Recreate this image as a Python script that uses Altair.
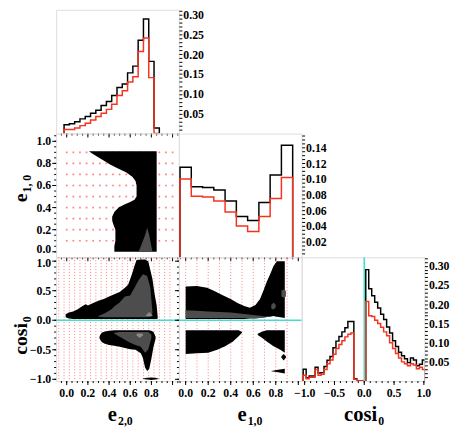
import json
import numpy as np
import pandas as pd
import altair as alt

W = 125
H = 126
SERIF = "Liberation Serif"
RED = "#f5331f"
CYAN = "#3fe0d0"
DOT_RED = "#ff6060"
GRAY = "#4d4d4d"
LIGHT = "#8a8a8a"

# ---------------- histogram data ----------------
E2_BIN_START, E2_BIN_WIDTH = -0.025, 0.05
E2_BLACK = [0.022, 0.025, 0.030, 0.037, 0.043, 0.051, 0.059, 0.071, 0.081, 0.096,
            0.116, 0.125, 0.153, 0.170, 0.235, 0.289, 0.182, 0.014]
E2_RED = [0.010, 0.010, 0.014, 0.020, 0.026, 0.034, 0.043, 0.051, 0.061, 0.074,
          0.096, 0.108, 0.130, 0.143, 0.207, 0.241, 0.141, 0.0]

E1_BIN_START, E1_BIN_WIDTH = -0.05, 0.1
E1_BLACK = [0.115, 0.090, 0.089, 0.086, 0.072, 0.052, 0.047, 0.070, 0.105, 0.143]
E1_RED = [0.100, 0.078, 0.077, 0.072, 0.058, 0.040, 0.033, 0.052, 0.075, 0.102]

COSI_BIN_START, COSI_BIN_WIDTH = -1.025, 0.05
COSI_BLACK = [0.031, 0.009, 0.013, 0.013, 0.036, 0.021, 0.022, 0.038, 0.054, 0.064,
              0.087, 0.104, 0.116, 0.128, 0.139, 0.155, 0.155, 0.006, 0.0, 0.0, 0.0,
              0.290, 0.240, 0.222, 0.205, 0.190, 0.174, 0.160, 0.141, 0.125, 0.105,
              0.090, 0.075, 0.066, 0.058, 0.048, 0.060, 0.055, 0.040, 0.044, 0.055]
COSI_RED = [0.015, 0.006, 0.010, 0.010, 0.030, 0.015, 0.018, 0.030, 0.045, 0.055,
            0.070, 0.085, 0.095, 0.105, 0.115, 0.122, 0.125, 0.005, 0.0, 0.0, 0.0,
            0.207, 0.170, 0.168, 0.158, 0.150, 0.140, 0.128, 0.118, 0.100, 0.085,
            0.072, 0.060, 0.050, 0.045, 0.040, 0.045, 0.042, 0.032, 0.036, 0.030]

# ---------------- contour regions: (dimension, low, high) ----------------
# cosi_0 vs e_2,0
CE2_UP_X = [-0.01, 0.02, 0.06, 0.10, 0.15, 0.18, 0.20, 0.25, 0.30, 0.35, 0.40, 0.45, 0.50,
            0.55, 0.58, 0.60, 0.62, 0.64, 0.66, 0.70, 0.74, 0.77, 0.79, 0.81, 0.83, 0.85, 0.86]
CE2_UP_LO = [0.05, 0.03, 0.02, 0.02, 0.02, 0.02, 0.02, 0.02, 0.02, 0.02, 0.02, 0.02, 0.02,
             0.02, 0.02, 0.02, 0.02, 0.02, 0.02, 0.02, 0.02, 0.02, 0.02, 0.02, 0.02, 0.02, 0.03]
CE2_UP_HI = [0.10, 0.13, 0.15, 0.18, 0.24, 0.27, 0.25, 0.29, 0.33, 0.36, 0.40, 0.44, 0.48,
             0.55, 0.60, 0.70, 0.80, 0.92, 1.02, 1.03, 1.03, 1.00, 0.85, 0.70, 0.45, 0.25, 0.05]
CE2_LOW_X = [0.31, 0.33, 0.36, 0.40, 0.45, 0.50, 0.55, 0.60, 0.65, 0.70, 0.72, 0.74, 0.76,
             0.78, 0.80, 0.82, 0.84]
CE2_LOW_HI = [-0.27, -0.21, -0.19, -0.18, -0.17, -0.17, -0.17, -0.17, -0.17, -0.17, -0.17,
              -0.17, -0.17, -0.17, -0.18, -0.20, -0.28]
CE2_LOW_LO = [-0.31, -0.37, -0.40, -0.42, -0.43, -0.45, -0.47, -0.49, -0.50, -0.56, -0.64,
              -0.80, -0.86, -0.82, -0.65, -0.45, -0.31]
CE2_BLOB_X = [0.72, 0.76, 0.80, 0.84, 0.87]
CE2_BLOB_HI = [-0.985, -0.972, -0.968, -0.975, -0.990]
CE2_BLOB_LO = [-0.995, -1.005, -1.010, -1.005, -0.995]
CE2_GUP_X = [0.30, 0.36, 0.42, 0.46, 0.50, 0.55, 0.60, 0.64, 0.68, 0.72, 0.76, 0.79, 0.81]
CE2_GUP_LO = [0.06, 0.05, 0.05, 0.05, 0.05, 0.05, 0.05, 0.05, 0.05, 0.05, 0.05, 0.08, 0.12]
CE2_GUP_HI = [0.07, 0.12, 0.18, 0.25, 0.30, 0.40, 0.42, 0.55, 0.68, 0.78, 0.75, 0.55, 0.15]
CE2_GLOW_X = [0.45, 0.50, 0.55, 0.60, 0.65, 0.70, 0.74, 0.77, 0.80]
CE2_GLOW_HI = [-0.21, -0.20, -0.20, -0.20, -0.20, -0.20, -0.20, -0.20, -0.24]
CE2_GLOW_LO = [-0.23, -0.28, -0.33, -0.38, -0.42, -0.45, -0.55, -0.50, -0.30]
CE2_LUP_X = [0.75, 0.78, 0.81]
CE2_LUP_LO = [0.07, 0.06, 0.07]
CE2_LUP_HI = [0.09, 0.14, 0.09]
CE2_LLOW_X = [0.66, 0.69, 0.72]
CE2_LLOW_HI = [-0.23, -0.225, -0.23]
CE2_LLOW_LO = [-0.26, -0.30, -0.26]

# cosi_0 vs e_1,0
CE1_UP_X = [0.0, 0.10, 0.19, 0.25, 0.32, 0.40, 0.46, 0.52, 0.57, 0.62, 0.66, 0.69, 0.72,
            0.75, 0.78, 0.81, 0.84, 0.88]
CE1_UP_LO = [0.02, 0.02, 0.02, 0.02, 0.02, 0.02, 0.02, 0.02, 0.03, 0.03, 0.04, 0.05, 0.06,
             0.06, 0.07, 0.06, 0.05, 0.04]
CE1_UP_HI = [0.57, 0.58, 0.55, 0.50, 0.43, 0.36, 0.29, 0.24, 0.21, 0.26, 0.36, 0.50, 0.65,
             0.78, 0.92, 1.00, 1.00, 1.00]
CE1_LL_X = [0.0, 0.10, 0.20, 0.28, 0.35, 0.42, 0.47, 0.50]
CE1_LL_HI = [-0.17, -0.17, -0.17, -0.17, -0.17, -0.17, -0.17, -0.20]
CE1_LL_LO = [-0.57, -0.56, -0.55, -0.50, -0.44, -0.36, -0.27, -0.21]
CE1_LR_X = [0.64, 0.68, 0.72, 0.78, 0.84, 0.88]
CE1_LR_HI = [-0.23, -0.19, -0.17, -0.17, -0.17, -0.17]
CE1_LR_LO = [-0.25, -0.30, -0.36, -0.44, -0.50, -0.55]
CE1_BIT_X = [0.85, 0.87, 0.89]
CE1_BIT_HI = [-0.61, -0.57, -0.61]
CE1_BIT_LO = [-0.63, -0.68, -0.63]
CE1_TRI_X = [0.76, 0.82, 0.88]
CE1_TRI_HI = [-0.860, -0.840, -0.820]
CE1_TRI_LO = [-0.865, -0.880, -0.900]
CE1_GBAND_X = [0.0, 0.10, 0.20, 0.30, 0.40, 0.50, 0.60, 0.68, 0.72]
CE1_GBAND_LO = [0.04, 0.04, 0.04, 0.04, 0.04, 0.04, 0.04, 0.04, 0.05]
CE1_GBAND_HI = [0.17, 0.16, 0.15, 0.14, 0.13, 0.11, 0.09, 0.07, 0.055]
CE1_GP1_X = [0.76, 0.78, 0.80]
CE1_GP1_LO = [0.20, 0.18, 0.22]
CE1_GP1_HI = [0.26, 0.30, 0.26]
CE1_GP2_X = [0.85, 0.87, 0.89]
CE1_GP2_LO = [0.40, 0.38, 0.40]
CE1_GP2_HI = [0.50, 0.52, 0.50]

# e_1,0 vs e_2,0 (horizontal bands: e1 -> e2 range)
EE_E1 = [0.0, 0.05, 0.10, 0.15, 0.20, 0.25, 0.28, 0.32, 0.36, 0.40, 0.43, 0.45, 0.47,
         0.50, 0.55, 0.60, 0.64, 0.68, 0.72, 0.76, 0.79, 0.82, 0.86, 0.89, 0.91]
EE_LEFT = [0.45, 0.45, 0.46, 0.46, 0.46, 0.44, 0.43, 0.43, 0.45, 0.49, 0.55, 0.60, 0.64,
           0.66, 0.66, 0.66, 0.65, 0.62, 0.56, 0.47, 0.41, 0.36, 0.29, 0.24, 0.21]
EE_RIGHT = [0.85] * len(EE_E1)
EE_G_E1 = [0.0, 0.05, 0.10, 0.15, 0.20, 0.22]
EE_G_LEFT = [0.68, 0.70, 0.72, 0.74, 0.755, 0.76]
EE_G_RIGHT = [0.81, 0.80, 0.79, 0.78, 0.765, 0.76]

# grid guides
DOT_E2 = [0.0, 0.0625, 0.125, 0.1875, 0.25, 0.3125, 0.375, 0.4375, 0.5, 0.5625, 0.625,
          0.6875, 0.75, 0.8125, 0.875, 0.9375, 1.0]
DOT_E1 = [0.1, 0.2, 0.3, 0.4, 0.5, 0.6, 0.7, 0.8, 0.9]
LINES_E2 = [-0.075, -0.025, 0.025, 0.075, 0.125, 0.175, 0.225, 0.275, 0.325, 0.375, 0.425,
            0.475, 0.525, 0.575, 0.625, 0.675, 0.725, 0.775, 0.825, 0.875, 0.925, 0.975]
LINES_E1 = [0.0, 0.1, 0.2, 0.3, 0.4, 0.5, 0.6, 0.7, 0.8, 0.9]
COSI_REF = [0.0]

# axis domains and ticks
E2_DOMAIN = [-0.10, 1.06]
E1_XDOMAIN = [-0.06, 1.03]
E1_YDOMAIN = [-0.05, 1.07]
COSI_YDOMAIN = [-1.03, 1.065]
COSI_XDOMAIN = [-1.05, 1.01]
H_E2_DOMAIN = [0, 0.312]
H_E1_DOMAIN = [0, 0.158]
H_COSI_DOMAIN = [0, 0.322]

E_MAJOR = [0.0, 0.2, 0.4, 0.6, 0.8, 1.0]
E_XLABELS = [0.0, 0.2, 0.4, 0.6, 0.8]
E_XLABEL_TEXT = ["0.0", "0.2", "0.4", "0.6", "0.8"]
E_YLABELS = [0.0, 0.2, 0.4, 0.6, 0.8, 1.0]
E_YLABEL_TEXT = ["0.0", "0.2", "0.4", "0.6", "0.8", "1.0"]
COSI_MAJOR = [-1.0, -0.5, 0.0, 0.5, 1.0]
COSI_LABEL_TEXT = ["\u22121.0", "\u22120.5", "0.0", "0.5", "1.0"]
H5_LABELS = [0.05, 0.1, 0.15, 0.2, 0.25, 0.3]
H2_LABELS = [0.02, 0.04, 0.06, 0.08, 0.1, 0.12, 0.14]


def ticks(lo, hi, step):
    n = int(round((hi - lo) / step))
    return [float(round(lo + step * i, 4)) + 0.0 for i in range(n + 1)]


def right_axis(values, labels, fmt=".2f"):
    ltest = "indexof(%s, datum.value) >= 0" % json.dumps(labels)
    return alt.Axis(orient="right", values=values, title=None, grid=False, domain=False,
                    ticks=True, tickColor="black", tickWidth=1, tickSize=3,
                    labels=True, format=fmt, labelExpr="%s ? datum.label : ''" % ltest,
                    labelPadding=1, labelOverlap=False, labelFlush=False,
                    labelFont=SERIF, labelFontWeight="bold", labelFontSize=12,
                    labelColor="black")


def sc(domain):
    return alt.Scale(domain=domain, nice=False, zero=False)


def guide_layers(orient, dom, minor, major, labels=None, texts=None, nudge=None):
    """Tick marks and tick labels drawn through the panel's own scale.
    nudge: (label value, dy) for an end label that sits next to a neighbour's label."""
    out = []
    for vals, ln in ((minor, 2), (major, 4)):
        df = pd.DataFrame({"v": vals})
        if orient == "bottom":
            enc = dict(x=alt.X("v:Q", scale=sc(dom), axis=None),
                       y=alt.value(H), y2=alt.value(H + ln))
        else:
            enc = dict(y=alt.Y("v:Q", scale=sc(dom), axis=None),
                       x=alt.value(0), x2=alt.value(-ln))
        out.append(alt.Chart(df).mark_rule(color="black", strokeWidth=1).encode(**enc))
    if labels:
        style = dict(font=SERIF, fontSize=12, fontWeight="bold", color="black")
        groups = [(labels, texts, 0)]
        if nudge is not None:
            keep = [(v, t) for v, t in zip(labels, texts) if v != nudge[0]]
            moved = [(v, t) for v, t in zip(labels, texts) if v == nudge[0]]
            groups = [([v for v, _ in keep], [t for _, t in keep], 0),
                      ([v for v, _ in moved], [t for _, t in moved], nudge[1])]
        for vals, txts, dy in groups:
            df = pd.DataFrame({"v": vals, "t": txts})
            extra = {"dy": dy} if dy else {}
            if orient == "bottom":
                out.append(alt.Chart(df).mark_text(align="center", baseline="top", **style, **extra).encode(
                    x=alt.X("v:Q", scale=sc(dom), axis=None), y=alt.value(H + 7), text="t:N"))
            else:
                out.append(alt.Chart(df).mark_text(align="right", baseline="middle", **style, **extra).encode(
                    y=alt.Y("v:Q", scale=sc(dom), axis=None), x=alt.value(-5), text="t:N"))
    return out


def step_frame(start, width, black, red):
    n = len(black)
    edges = [start + width * k for k in range(n + 1)]
    rows = []
    for name, vals in (("black", black), ("red", red)):
        xs = [edges[0]] + edges[:-1] + [edges[-1]]
        ys = [0.0] + list(vals) + [0.0]
        for i, (x, y) in enumerate(zip(xs, ys)):
            rows.append({"x": x, "h": y, "s": name, "o": i})
    return pd.DataFrame(rows)


def band_frame(regions):
    rows = []
    for r, (xs, lo, hi) in enumerate(regions):
        for x, a, b in zip(xs, lo, hi):
            rows.append({"r": r, "d": x, "lo": a, "hi": b})
    return pd.DataFrame(rows)


def title_layers(main, sub, x, y, angle=None, size=21, subsize=12):
    def one(text, xx, yy, s, align):
        kw = dict(align=align, baseline="alphabetic", font=SERIF, fontSize=s,
                  fontWeight="bold", color="black")
        if angle is not None:
            kw["angle"] = angle
        return alt.Chart(pd.DataFrame({"t": [text]})).mark_text(**kw).encode(
            x=alt.value(xx), y=alt.value(yy), text="t:N")
    if angle is None:
        return [one(main, x, y, size, "right"), one(sub, x + 1, y + 4, subsize, "left")]
    return [one(main, x, y, size, "right"), one(sub, x + 4, y - 1, subsize, "left")]


def hist_panel(df, xdom, ydom, yaxis, extra=()):
    line = alt.Chart(df).mark_line(interpolate="step-after", strokeWidth=1.5, clip=True).encode(
        x=alt.X("x:Q", scale=sc(xdom), axis=None),
        y=alt.Y("h:Q", scale=sc(ydom), axis=yaxis),
        color=alt.Color("s:N", scale=alt.Scale(domain=["black", "red"], range=["#000000", RED]),
                        legend=None),
        order="o:Q")
    return alt.layer(line, *extra).properties(width=W, height=H)


def vband(regions, color, xdom, ydom):
    return alt.Chart(band_frame(regions)).mark_area(color=color, clip=True, interpolate="linear").encode(
        x=alt.X("d:Q", scale=sc(xdom), axis=None),
        y=alt.Y("lo:Q", scale=sc(ydom), axis=None),
        y2="hi:Q",
        detail="r:N")


E2_MINOR = ticks(-0.05, 1.05, 0.05)
E1X_MINOR = ticks(-0.05, 1.0, 0.05)
E1Y_MINOR = ticks(0.0, 1.05, 0.05)
COSI_MINOR = ticks(-1.0, 1.0, 0.1)

# ---------------- panels ----------------
hist_e2 = hist_panel(step_frame(E2_BIN_START, E2_BIN_WIDTH, E2_BLACK, E2_RED),
                     E2_DOMAIN, H_E2_DOMAIN, right_axis(ticks(0.01, 0.31, 0.01), H5_LABELS),
                     extra=guide_layers("bottom", E2_DOMAIN, E2_MINOR, E_MAJOR))
hist_e1 = hist_panel(step_frame(E1_BIN_START, E1_BIN_WIDTH, E1_BLACK, E1_RED),
                     E1_XDOMAIN, H_E1_DOMAIN, right_axis(ticks(0.005, 0.155, 0.005), H2_LABELS),
                     extra=guide_layers("bottom", E1_XDOMAIN, E1X_MINOR, E_MAJOR))

cyan_v = alt.Chart(pd.DataFrame({"v": COSI_REF})).mark_rule(color=CYAN, strokeWidth=1.6).encode(
    x=alt.X("v:Q", scale=sc(COSI_XDOMAIN), axis=None))
hist_cosi = hist_panel(step_frame(COSI_BIN_START, COSI_BIN_WIDTH, COSI_BLACK, COSI_RED),
                       COSI_XDOMAIN, H_COSI_DOMAIN, right_axis(ticks(0.01, 0.32, 0.01), H5_LABELS),
                       extra=[cyan_v]
                       + guide_layers("bottom", COSI_XDOMAIN, COSI_MINOR, COSI_MAJOR,
                                      COSI_MAJOR, COSI_LABEL_TEXT)
                       + title_layers("cosi", "0", 77, H + 41))

# e1 vs e2
dots = pd.DataFrame([{"a": a, "b": b} for b in DOT_E1 for a in DOT_E2])
ee_dots = alt.Chart(dots).mark_square(size=3, color=DOT_RED, opacity=0.8).encode(
    x=alt.X("a:Q", scale=sc(E2_DOMAIN), axis=None),
    y=alt.Y("b:Q", scale=sc(E1_YDOMAIN), axis=None))
ee_black = alt.Chart(band_frame([(EE_E1, EE_LEFT, EE_RIGHT)])).mark_area(
    orient="horizontal", color="black", clip=True).encode(
    y=alt.Y("d:Q", scale=sc(E1_YDOMAIN), axis=None),
    x=alt.X("lo:Q", scale=sc(E2_DOMAIN), axis=None),
    x2="hi:Q", detail="r:N")
ee_gray = alt.Chart(band_frame([(EE_G_E1, EE_G_LEFT, EE_G_RIGHT)])).mark_area(
    orient="horizontal", color=GRAY, clip=True).encode(
    y=alt.Y("d:Q", scale=sc(E1_YDOMAIN), axis=None),
    x=alt.X("lo:Q", scale=sc(E2_DOMAIN), axis=None),
    x2="hi:Q", detail="r:N")
panel_ee = alt.layer(ee_dots, ee_black, ee_gray,
                     *guide_layers("bottom", E2_DOMAIN, E2_MINOR, E_MAJOR),
                     *guide_layers("left", E1_YDOMAIN, E1Y_MINOR, E_MAJOR, E_YLABELS, E_YLABEL_TEXT,
                                   nudge=(0.0, -3)),
                     *title_layers("e", "1, 0", -30, 61, angle=270, size=20)).properties(width=W, height=H)

# cosi vs e2
ce2_lines = alt.Chart(pd.DataFrame({"v": LINES_E2})).mark_rule(
    color=DOT_RED, strokeDash=[1, 2], strokeWidth=1, opacity=0.8).encode(
    x=alt.X("v:Q", scale=sc(E2_DOMAIN), axis=None))
ce2_black = vband([(CE2_UP_X, CE2_UP_LO, CE2_UP_HI), (CE2_LOW_X, CE2_LOW_LO, CE2_LOW_HI),
                   (CE2_BLOB_X, CE2_BLOB_LO, CE2_BLOB_HI)], "black", E2_DOMAIN, COSI_YDOMAIN)
ce2_gray = vband([(CE2_GUP_X, CE2_GUP_LO, CE2_GUP_HI), (CE2_GLOW_X, CE2_GLOW_LO, CE2_GLOW_HI)],
                 GRAY, E2_DOMAIN, COSI_YDOMAIN)
ce2_light = vband([(CE2_LUP_X, CE2_LUP_LO, CE2_LUP_HI), (CE2_LLOW_X, CE2_LLOW_LO, CE2_LLOW_HI)],
                  LIGHT, E2_DOMAIN, COSI_YDOMAIN)
ce2_cyan = alt.Chart(pd.DataFrame({"v": COSI_REF})).mark_rule(color=CYAN, strokeWidth=1.6).encode(
    y=alt.Y("v:Q", scale=sc(COSI_YDOMAIN), axis=None))
panel_ce2 = alt.layer(ce2_lines, ce2_black, ce2_gray, ce2_light, ce2_cyan,
                      *guide_layers("bottom", E2_DOMAIN, E2_MINOR, E_MAJOR, E_XLABELS, E_XLABEL_TEXT),
                      *guide_layers("left", COSI_YDOMAIN, COSI_MINOR, COSI_MAJOR,
                                    COSI_MAJOR, COSI_LABEL_TEXT, nudge=(1.0, 2)),
                      *title_layers("e", "2,0", 62, H + 41),
                      *title_layers("cosi", "0", -30, 67, angle=270, size=20)).properties(width=W, height=H)

# cosi vs e1
ce1_lines = alt.Chart(pd.DataFrame({"v": LINES_E1})).mark_rule(
    color=DOT_RED, strokeDash=[1, 2], strokeWidth=1, opacity=0.8).encode(
    x=alt.X("v:Q", scale=sc(E1_XDOMAIN), axis=None))
ce1_black = vband([(CE1_UP_X, CE1_UP_LO, CE1_UP_HI), (CE1_LL_X, CE1_LL_LO, CE1_LL_HI),
                   (CE1_LR_X, CE1_LR_LO, CE1_LR_HI), (CE1_BIT_X, CE1_BIT_LO, CE1_BIT_HI),
                   (CE1_TRI_X, CE1_TRI_LO, CE1_TRI_HI)], "black", E1_XDOMAIN, COSI_YDOMAIN)
ce1_gray = vband([(CE1_GBAND_X, CE1_GBAND_LO, CE1_GBAND_HI), (CE1_GP1_X, CE1_GP1_LO, CE1_GP1_HI),
                  (CE1_GP2_X, CE1_GP2_LO, CE1_GP2_HI)], GRAY, E1_XDOMAIN, COSI_YDOMAIN)
ce1_cyan = alt.Chart(pd.DataFrame({"v": COSI_REF})).mark_rule(color=CYAN, strokeWidth=1.6).encode(
    y=alt.Y("v:Q", scale=sc(COSI_YDOMAIN), axis=None))
panel_ce1 = alt.layer(ce1_lines, ce1_black, ce1_gray, ce1_cyan,
                      *guide_layers("bottom", E1_XDOMAIN, E1X_MINOR, E_MAJOR, E_XLABELS, E_XLABEL_TEXT),
                      *guide_layers("left", COSI_YDOMAIN, COSI_MINOR, COSI_MAJOR),
                      *title_layers("e", "1,0", 69, H + 41)).properties(width=W, height=H)


def blank():
    return alt.Chart(pd.DataFrame({"v": [0.5]})).mark_point(opacity=0, size=1).encode(
        x=alt.X("v:Q", axis=None, scale=alt.Scale(domain=[0, 1])),
        y=alt.Y("v:Q", axis=None, scale=alt.Scale(domain=[0, 1]))).properties(
        width=W, height=H, view=alt.ViewBackground(stroke="transparent"))


chart = alt.concat(
    hist_e2, blank(), blank(),
    panel_ee, hist_e1, blank(),
    panel_ce2, panel_ce1, hist_cosi,
    columns=3, spacing=0, bounds="flush",
).properties(
    padding={"left": 2, "top": -8, "right": 0, "bottom": 0},
    background="white",
).configure_view(stroke="black", strokeWidth=1).configure(font=SERIF)

chart.save("out.html", embed_options={"renderer": "svg", "actions": False})
